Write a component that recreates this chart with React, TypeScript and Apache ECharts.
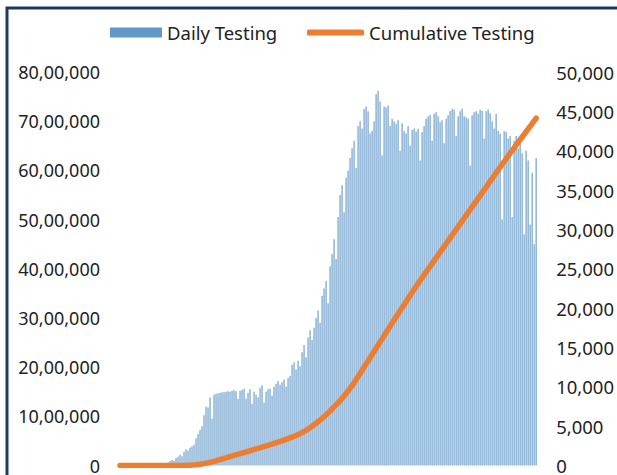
import React, { useEffect, useRef } from "react";
import * as echarts from "echarts";

// Daily testing, in lakhs (1 lakh = 1,00,000)
const dailyTesting: number[] = [
  0, 0, 0, 0, 0, 0, 0, 0, 0, 0, 0, 0, 0, 0, 0, 0, 0, 0, 0, 0, 0, 0,
  0.2, 0.4, 0.6, 0.9, 1.1, 1.0, 1.5, 1.8, 2.2, 1.9, 2.8, 3.3, 3.0, 3.6, 3.9, 4.2, 5.5, 6.4,
  7.2, 8.0, 10.2, 12.0, 11.8, 13.8, 9.5, 14.4, 14.6, 14.7, 14.8, 14.9, 14.9, 15.0, 15.1, 15.0,
  15.2, 15.3, 15.1, 13.5, 15.2, 15.4, 15.6, 13.6, 14.8, 15.5, 12.5, 15.0, 14.4, 13.8, 15.8, 16.3,
  12.8, 15.0, 15.5, 15.6, 14.2, 16.0, 16.6, 17.2, 16.4, 16.9, 17.5, 16.0, 17.8, 18.2, 20.5, 21.0,
  19.5, 21.3, 20.2, 23.0, 24.5, 22.0, 26.0, 27.5, 25.5, 28.0, 30.0, 31.5, 29.0, 34.5, 36.0, 37.5,
  33.0, 40.5, 43.0, 46.0, 42.0, 50.5, 55.0, 57.0, 51.5, 58.5, 60.0, 62.5, 64.5, 66.0, 60.5, 69.0,
  70.0, 68.5, 72.5, 73.0, 72.0, 67.5, 68.0, 70.0, 75.5, 76.2, 74.0, 63.0, 73.0, 72.8, 73.2, 69.0,
  70.5, 70.0, 69.5, 70.2, 64.0, 69.6, 68.0, 67.5, 69.0, 65.0, 68.2, 68.5, 67.9, 68.4, 62.0, 67.8,
  69.0, 70.5, 71.0, 71.3, 66.0, 71.5, 71.8, 71.0, 69.8, 70.2, 65.5, 70.5, 71.2, 72.0, 72.5, 72.3,
  67.0, 71.0, 72.0, 72.6, 71.0, 70.8, 70.5, 61.0, 71.2, 71.8, 72.0, 71.5, 72.3, 72.1, 66.5, 72.0,
  72.4, 71.6, 70.0, 68.5, 71.5, 68.0, 67.5, 50.0, 68.0, 67.8, 66.5, 67.0, 50.5, 66.0, 67.0, 64.5,
  65.5, 63.5, 47.0, 64.0, 62.0, 49.0, 59.5, 45.0, 62.5,
];

// Cumulative testing (right axis units)
const cumulativeTesting: number[] = [
  0, 0, 0, 0, 0, 0, 0, 0, 0, 0, 0, 0, 0, 0, 0, 0, 0, 0, 0, 0, 0, 0, 0, 0, 0, 0, 0, 0, 0, 0, 0,
  5, 10, 20, 30, 45, 60, 80, 100, 130, 160, 200, 240, 290, 340, 400, 460, 520, 600,
  675, 750, 825, 900, 975, 1050, 1125, 1200, 1275, 1350, 1425, 1500, 1575, 1650, 1725, 1800,
  1875, 1950, 2025, 2100, 2175, 2250, 2330, 2410, 2490, 2570, 2650, 2730, 2810, 2890, 2970, 3050,
  3130, 3215, 3310, 3410, 3510, 3610, 3710, 3820, 3930, 4050, 4180, 4320, 4470, 4630, 4800, 4980,
  5170, 5370, 5570, 5770, 5980, 6200, 6430, 6670, 6920, 7180, 7450, 7700, 7970, 8250, 8540, 8840,
  9150, 9470, 9800, 10150, 10520, 10900, 11290, 11690, 12090, 12490, 12890, 13290, 13690, 14090,
  14490, 14890, 15290, 15690, 16090, 16490, 16890, 17290, 17690, 18090, 18480, 18870, 19260, 19650,
  20040, 20430, 20820, 21210, 21600, 21980, 22360, 22740, 23120, 23500, 23860, 24220, 24580, 24940,
  25300, 25660, 26020, 26380, 26740, 27100, 27460, 27820, 28180, 28540, 28900, 29260, 29620, 29980,
  30340, 30700, 31060, 31420, 31780, 32140, 32500, 32860, 33220, 33580, 33940, 34300, 34660, 35020,
  35380, 35740, 36100, 36460, 36820, 37180, 37540, 37900, 38250, 38600, 38950, 39300, 39650, 40000,
  40350, 40700, 41050, 41400, 41740, 42080, 42420, 42760, 43100, 43440, 43780, 44120,
];

const categories: string[] = dailyTesting.map((_, i) => `Day ${i + 1}`);

const leftTickLabels: string[] = [
  "0", "10,00,000", "20,00,000", "30,00,000", "40,00,000",
  "50,00,000", "60,00,000", "70,00,000", "80,00,000",
];
const rightTickLabels: string[] = [
  "0", "5,000", "10,000", "15,000", "20,000", "25,000",
  "30,000", "35,000", "40,000", "45,000", "50,000",
];

const FONT = "'Noto Sans', 'DejaVu Sans', sans-serif";

export default function App() {
  const ref = useRef<HTMLDivElement>(null);

  useEffect(() => {
    document.body.style.margin = "0";
    if (!ref.current) return;
    const chart = echarts.init(ref.current, undefined, { renderer: "svg" });
    chart.setOption({
      animation: false,
      backgroundColor: "#ffffff",
      textStyle: { fontFamily: FONT },
      graphic: [
        {
          type: "rect",
          shape: { x: 7, y: 8, width: 800, height: 800 },
          style: { fill: "none", stroke: "#1F3864", lineWidth: 3 },
          z: 100,
        },
      ],
      legend: [
        {
          data: [{ name: "Daily Testing", icon: "rect" }],
          left: 110,
          top: 23,
          padding: 0,
          itemWidth: 52,
          itemHeight: 10,
          textStyle: { fontSize: 18.5, color: "#222222", fontFamily: FONT },
        },
        {
          data: [{ name: "Cumulative Testing", icon: "roundRect" }],
          left: 307,
          top: 23,
          padding: 0,
          itemWidth: 57,
          itemHeight: 6,
          textStyle: { fontSize: 18.5, color: "#222222", fontFamily: FONT },
        },
      ],
      grid: { left: 119, right: 79, top: 72, bottom: 8, containLabel: false },
      xAxis: {
        type: "category",
        data: categories,
        axisLine: { show: false },
        axisTick: { show: false },
        axisLabel: { show: false },
        splitLine: { show: false },
      },
      yAxis: [
        {
          type: "value",
          min: 0,
          max: 80,
          interval: 10,
          splitLine: { show: false },
          axisLine: { show: false },
          axisTick: { show: false },
          axisLabel: {
            margin: 19,
            fontSize: 18,
            color: "#222222",
            fontFamily: FONT,
            formatter: (v: number) => leftTickLabels[Math.round(v / 10)] ?? "",
          },
        },
        {
          type: "value",
          min: 0,
          max: 50000,
          interval: 5000,
          position: "right",
          splitLine: { show: false },
          axisLine: { show: false },
          axisTick: { show: false },
          axisLabel: {
            margin: 19,
            fontSize: 18.5,
            color: "#222222",
            fontFamily: FONT,
            formatter: (v: number) => rightTickLabels[Math.round(v / 5000)] ?? "",
          },
        },
      ],
      series: [
        {
          name: "Daily Testing",
          type: "bar",
          yAxisIndex: 0,
          data: dailyTesting,
          barCategoryGap: "45%",
          itemStyle: { color: "#2E75B6", opacity: 0.75 },
        },
        {
          name: "Cumulative Testing",
          type: "line",
          yAxisIndex: 1,
          data: cumulativeTesting,
          showSymbol: false,
          symbol: "none",
          lineStyle: { color: "#ED7D31", width: 5.5, cap: "round", join: "round" },
          itemStyle: { color: "#ED7D31" },
          z: 5,
        },
      ],
    });
    return () => chart.dispose();
  }, []);

  return <div ref={ref} style={{ width: 617, height: 475 }} />;
}
